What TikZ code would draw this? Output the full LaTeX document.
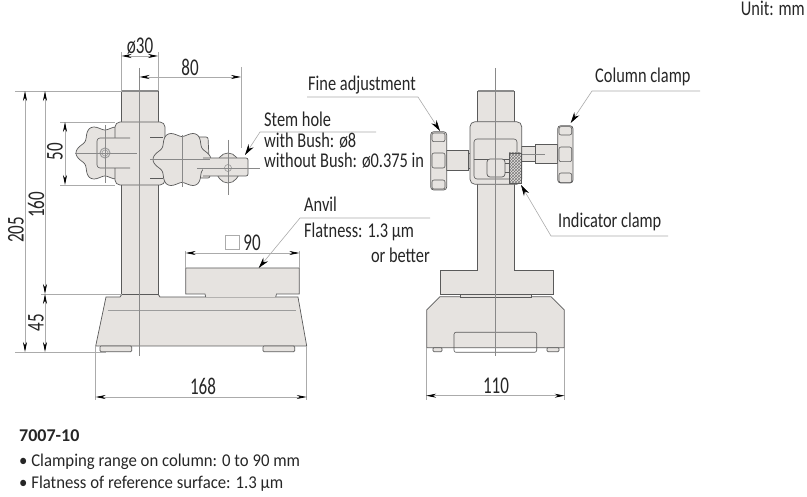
\documentclass[tikz,border=0pt]{standalone}
\usepackage{fontspec}
\setmainfont{Carlito}
\newfontfamily\narrowfont[FakeStretch=0.71]{Carlito}
\newfontfamily\labelfont[FakeStretch=0.78]{Carlito}
\newfontfamily\notefont[FakeStretch=0.93]{Carlito}
\usetikzlibrary{arrows.meta,patterns}
\definecolor{bodyfill}{HTML}{E6E3E0}
\definecolor{bodyline}{HTML}{5A5A5A}
\definecolor{thinline}{HTML}{ABABAB}
\def\lobeknob(#1,#2){\draw[part] plot[domain=0:360,samples=97,variable=\t] ({#1+(26+3*cos(6*\t))*cos(\t)},{#2+(26+3*cos(6*\t))*sin(\t)}) -- cycle;}
\tikzset{
	part/.style={draw=bodyline,fill=bodyfill,line width=0.7pt},
	edge/.style={draw=bodyline,line width=0.6pt},
	thin/.style={draw=thinline,line width=0.6pt},
	center/.style={draw=thinline!80!black,line width=0.5pt},
	dimline/.style={draw=thinline,line width=0.7pt,{Stealth[length=10pt,width=4pt,black]}-{Stealth[length=10pt,width=4pt,black]}},
	leader/.style={draw=thinline,line width=0.6pt,-{Stealth[length=11pt,width=6pt,black]}},
	dimtext/.style={font=\narrowfont\fontsize{24}{26}\selectfont,inner sep=0pt,text=black!85},
	labeltext/.style={font=\labelfont\fontsize{21}{23}\selectfont,inner sep=0pt,text=black!85,anchor=base west},
	notetext/.style={font=\notefont\fontsize{18}{20}\selectfont,inner sep=0pt,text=black!85,anchor=base west}
}

\begin{document}
\begin{tikzpicture}[x=1pt,y=-1pt]
	\useasboundingbox (0,0) rectangle (807,497);
	%%%%% LEFT VIEW %%%%%

	% base, anvil, column
	\draw[part] (95.7,346) -- (106,297) -- (120,297) -- (122,294) -- (158,294) -- (160,297) -- (298,297) -- (306.7,346) -- cycle;
	\draw[edge,draw=bodyline!60] (107.7,310) -- (296,310);
	\draw[part,rounded corners=1pt] (100,346) rectangle (131.7,351.7);
	\draw[part,rounded corners=1pt] (263,346) rectangle (294.7,351.7);
	\draw[part] (205.7,297) -- (205,294) -- (185.7,294) -- (185.7,268) -- (299.3,268) -- (299.3,294) -- (276.5,294) -- (275.7,297);
	\draw[part] (121.5,294) rectangle (158,91);
	\draw[line width=1.2pt,draw=bodyline!70] (121.5,91) -- (158,91);

	% clamp and knobs
	\lobeknob(105,153)
	\draw[part,rounded corners=5pt] (115,122) rectangle (165,185);
	\draw[edge,rounded corners=3pt,fill=bodyfill] (130,138) -- (97,138) -- (97,168) -- (130,168);
	\draw[edge,draw=bodyline!60,line width=1pt] (105,153) circle (5);
	\draw[edge,draw=bodyline!60] (105,153) circle (3);
	\draw[edge] (150,137) -- (163,137);
	\draw[edge] (150,178) -- (163,178);
	\draw[part,rounded corners=2pt] (195,137) -- (208,137) -- (210,178) -- (195,178);
	\lobeknob(182,159.5)
	\draw[part] (228,168) ellipse [x radius=12,y radius=15];
	\draw[part,rounded corners=2pt] (203,158) -- (248,158) -- (248,176) -- (203,176);
	\draw[center] (228,168) circle (3.5);

	% center lines
	\draw[center] (139.5,68) -- (139.5,356);
	\draw[center] (105,125) -- (105,183);
	\draw[center] (75,153) -- (137,153);
	\draw[center] (182,135) -- (182,187);
	\draw[center] (150,159) -- (210,159);
	\draw[center] (228,140) -- (228,195);
	\draw[center] (197,168) -- (260,168);

	% dimensions
	\draw[thin] (121.5,52) -- (121.5,91);
	\draw[thin] (158,52) -- (158,91);
	\draw[thin] (241,67) -- (241,148);
	\draw[thin] (15,91) -- (121.5,91);
	\draw[thin] (41,294) -- (121.5,294);
	\draw[thin] (15,352) -- (106,352);
	\draw[thin] (60,122) -- (115,122);
	\draw[thin] (60,185) -- (115,185);
	\draw[thin] (95.7,346) -- (95.7,400);
	\draw[thin] (306.7,346) -- (306.7,400);
	\draw[thin] (185.7,251) -- (185.7,268);
	\draw[thin] (299.3,251) -- (299.3,268);
	\draw[dimline] (121.5,56) -- (158,56);
	\draw[dimline] (139.5,77) -- (241,77);
	\draw[dimline] (25,91) -- (25,352);
	\draw[dimline] (45,91) -- (45,294);
	\draw[dimline] (45,294) -- (45,352);
	\draw[dimline] (65,122) -- (65,185);
	\draw[dimline] (95.7,397) -- (306.7,397);
	\draw[dimline] (185.7,253) -- (299.3,253);
	\node[dimtext] (dimbore) at (140,46) {ø30};
	\node[dimtext] (dimreach) at (190,67) {80};
	\node[dimtext,rotate=90] (dimtotal) at (16,230) {205};
	\node[dimtext,rotate=90] (dimrange) at (36,205) {160};
	\node[dimtext,rotate=90] (dimbase) at (36,323) {45};
	\node[dimtext,rotate=90] (dimclamp) at (55,152) {50};
	\node[dimtext] (dimlength) at (203,386) {168};
	\node[dimtext] (dimanvil) at (252,243) {90};
	\draw[thin] (225.7,235.7) rectangle (239.7,249);

	%%%%% RIGHT VIEW %%%%%

	% base, anvil, column
	\draw[part] (426.7,347.7) -- (426.7,310) -- (440,296.7) -- (551,296.7) -- (564.3,310) -- (564.3,347.7) -- cycle;
	\draw[part,rounded corners=1pt] (433,347.7) rectangle (442,351.7);
	\draw[part,rounded corners=1pt] (547,347.7) rectangle (559,351.7);
	\draw[edge,rounded corners=2pt] (454,347.7) -- (454,332.3) -- (536.7,332.3) -- (536.7,352.3) -- (454,352.3) -- (454,347.7);
	\draw[part] (460,294) rectangle (531.7,297);
	\draw[thin,dashed] (440.3,270) -- (553,270);
	\draw[part] (440.3,270.7) rectangle (553,294);
	\draw[part] (477.7,270.7) -- (477.7,91) -- (514.3,91) -- (514.3,270.7);
	\draw[line width=1.2pt,draw=bodyline!70] (477.7,91) -- (514.3,91);

	% stems and knobs
	\draw[part] (446.7,150.7) rectangle (468,170);
	\draw[part] (468,153) rectangle (474,168);
	\draw[part] (521,146.7) rectangle (535.7,161);
	\draw[part] (535.7,144) rectangle (557.7,163);
	\draw[center] (521,154) -- (545,154);
	\draw[part,rounded corners=3pt] (430.7,131.7) rectangle (446.7,190);
	\draw[edge,rounded corners=2pt] (432,133) rectangle (445,141.7);
	\draw[edge,rounded corners=2pt] (432,153) rectangle (445,168);
	\draw[edge,rounded corners=2pt] (432,180) rectangle (445,189);
	\draw[part,rounded corners=3pt] (557.7,125.7) rectangle (573,183);
	\draw[edge,rounded corners=2pt] (559,126.7) rectangle (571.7,135);
	\draw[edge,rounded corners=2pt] (559,147) rectangle (571.7,161.7);
	\draw[edge,rounded corners=2pt] (559,173) rectangle (571.7,182.7);

	% clamp
	\draw[part,rounded corners=5pt] (470,121.7) rectangle (521.7,184.3);
	\draw[edge,rounded corners=3pt] (474,139) rectangle (517,179);
	\draw[edge] (474,159) -- (509,159);
	\draw[part,rounded corners=3pt] (487,159) rectangle (505,177);
	\draw[edge] (505,163) -- (509,163);
	\draw[edge] (505,172) -- (509,172);
	\draw[edge,fill=bodyfill] (509,153) rectangle (521.7,183);
	\draw[edge,pattern=crosshatch,pattern color=bodyline!80] (509,153) rectangle (521.7,183);
	\draw[center] (495.7,68) -- (495.7,356);

	% dimension
	\draw[thin] (426.2,347.7) -- (426.2,400);
	\draw[thin] (564.7,347.7) -- (564.7,400);
	\draw[dimline] (426.2,395.7) -- (564.7,395.7);
	\node[dimtext] (dimwidth) at (496,386) {110};

	%%%%% CALLOUTS %%%%%

	\coordinate (stemtip) at (245,155);
	\coordinate (stemknee) at (260,132);
	\coordinate (stemend) at (376,132);
	\coordinate (anviltip) at (258.7,268);
	\coordinate (anvilknee) at (300,218);
	\coordinate (anvilend) at (430,218);
	\coordinate (finetip) at (440,131);
	\coordinate (fineknee) at (418,97);
	\coordinate (fineend) at (307,97);
	\coordinate (columntip) at (570.7,123);
	\coordinate (columnknee) at (592,91);
	\coordinate (columnend) at (700,91);
	\coordinate (indicatortip) at (521,185);
	\coordinate (indicatorknee) at (551,236);
	\coordinate (indicatorend) at (668,236);
	\draw[leader] (stemend) -- (stemknee) -- (stemtip);
	\draw[leader] (anvilend) -- (anvilknee) -- (anviltip);
	\draw[leader] (fineend) -- (fineknee) -- (finetip);
	\draw[leader] (columnend) -- (columnknee) -- (columntip);
	\draw[leader] (indicatorend) -- (indicatorknee) -- (indicatortip);

	\node[labeltext] (stemlabel) at (264,127) {Stem hole};
	\node[labeltext] (stembush) at (264,148) {with Bush: ø8};
	\node[labeltext] (stemnobush) at (264,168) {without Bush: ø0.375 in};
	\node[labeltext] (anvillabel) at (304,212) {Anvil};
	\node[labeltext] (anvilflat) at (304,238) {Flatness: 1.3 µm};
	\node[labeltext,anchor=base east] (anvilbetter) at (430,263) {or better};
	\node[labeltext] (finelabel) at (308,91) {Fine adjustment};
	\node[labeltext] (columnlabel) at (595,83) {Column clamp};
	\node[labeltext] (indicatorlabel) at (558,228) {Indicator clamp};
	\node[labeltext,anchor=base east] (unitlabel) at (805,16) {Unit: mm};

	\node[notetext,font=\bfseries\fontsize{18}{20}\selectfont] (modellabel) at (19,442) {7007-10};
	\node[notetext] (noterange) at (19,467) {• Clamping range on column: 0 to 90 mm};
	\node[notetext] (noteflat) at (19,489) {• Flatness of reference surface: 1.3 µm};

	%%%%% END %%%%%
\end{tikzpicture}
\end{document}
